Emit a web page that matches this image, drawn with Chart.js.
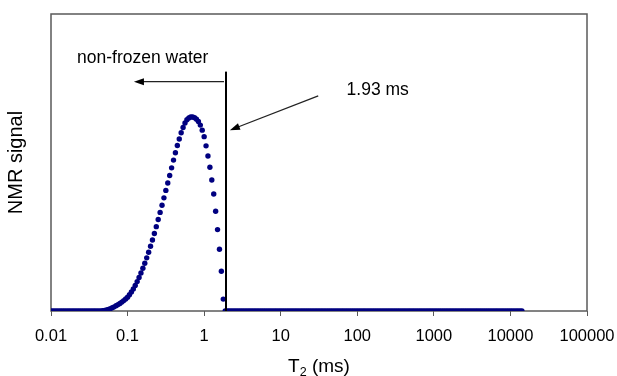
<!DOCTYPE html>
<html>
<head>
<meta charset="utf-8">
<script src="https://cdn.jsdelivr.net/npm/chart.js@4"></script>
<style>
  html, body { margin: 0; padding: 0; background: #fff; overflow: hidden; }
  #wrap { width: 640px; height: 376px; }
</style>
</head>
<body>
<div id="wrap"><canvas id="t2Chart" width="640" height="376"></canvas></div>
<script>
// T2 relaxation times (ms), log-spaced sampling
const t2Values = [
    0.01, 0.01059, 0.01122, 0.01189, 0.01259, 0.01334, 0.01413, 0.01496, 0.01585, 0.01679,
    0.01778, 0.01884, 0.01995, 0.02113, 0.02239, 0.02371, 0.02512, 0.02661, 0.02818, 0.02985,
    0.03162, 0.0335, 0.03548, 0.03758, 0.03981, 0.04217, 0.04467, 0.04732, 0.05012, 0.05309,
    0.05623, 0.05957, 0.0631, 0.06683, 0.07079, 0.07499, 0.07943, 0.08414, 0.08913, 0.09441,
    0.1, 0.1059, 0.1122, 0.1189, 0.1259, 0.1334, 0.1413, 0.1496, 0.1585, 0.1679,
    0.1778, 0.1884, 0.1995, 0.2113, 0.2239, 0.2371, 0.2512, 0.2661, 0.2818, 0.2985,
    0.3162, 0.335, 0.3548, 0.3758, 0.3981, 0.4217, 0.4467, 0.4732, 0.5012, 0.5309,
    0.5623, 0.5957, 0.631, 0.6683, 0.7079, 0.7499, 0.7943, 0.8414, 0.8913, 0.9441,
    1, 1.059, 1.122, 1.189, 1.259, 1.334, 1.413, 1.496, 1.585, 1.679,
    1.778, 1.884, 1.995, 2.113, 2.239, 2.371, 2.512, 2.661, 2.818, 2.985,
    3.162, 3.35, 3.548, 3.758, 3.981, 4.217, 4.467, 4.732, 5.012, 5.309,
    5.623, 5.957, 6.31, 6.683, 7.079, 7.499, 7.943, 8.414, 8.913, 9.441,
    10, 10.59, 11.22, 11.89, 12.59, 13.34, 14.13, 14.96, 15.85, 16.79,
    17.78, 18.84, 19.95, 21.13, 22.39, 23.71, 25.12, 26.61, 28.18, 29.85,
    31.62, 33.5, 35.48, 37.58, 39.81, 42.17, 44.67, 47.32, 50.12, 53.09,
    56.23, 59.57, 63.1, 66.83, 70.79, 74.99, 79.43, 84.14, 89.13, 94.41,
    100, 105.9, 112.2, 118.9, 125.9, 133.4, 141.3, 149.6, 158.5, 167.9,
    177.8, 188.4, 199.5, 211.3, 223.9, 237.1, 251.2, 266.1, 281.8, 298.5,
    316.2, 335, 354.8, 375.8, 398.1, 421.7, 446.7, 473.2, 501.2, 530.9,
    562.3, 595.7, 631, 668.3, 707.9, 749.9, 794.3, 841.4, 891.3, 944.1,
    1000, 1059, 1122, 1189, 1259, 1334, 1413, 1496, 1585, 1679,
    1778, 1884, 1995, 2113, 2239, 2371, 2512, 2661, 2818, 2985,
    3162, 3350, 3548, 3758, 3981, 4217, 4467, 4732, 5012, 5309,
    5623, 5957, 6310, 6683, 7079, 7499, 7943, 8414, 8913, 9441,
    10000, 10590, 11220, 11890, 12590, 13340, 14130
];

// NMR signal (arbitrary units, axis 0..100)
const signalValues = [
    0, 0, 0, 0, 0, 0, 0, 0, 0, 0,
    0, 0, 0, 0, 0, 0, 0, 0, 0, 0,
    0, 0, 0, 0, 0, 0, 0, 0.1, 0.2, 0.35,
    0.55, 0.8, 1.1, 1.4, 1.8, 2.15, 2.55, 3.0, 3.5, 4.05,
    4.65, 5.5, 6.4, 7.4, 8.6, 9.9, 11.3, 12.8, 14.4, 16.1,
    17.9, 19.8, 21.8, 23.9, 26.1, 28.4, 30.8, 33.2, 35.6, 38.1,
    40.6, 43.1, 45.6, 48.2, 50.8, 53.3, 55.7, 57.9, 60.0, 61.8,
    63.3, 64.4, 65.0, 65.3, 65.3, 65.1, 64.6, 63.8, 62.6, 60.9,
    58.7, 55.6, 52.2, 48.4, 44.1, 39.4, 33.6, 27.4, 20.8, 13.4,
    4.0, 0, 0, 0, 0, 0, 0, 0, 0, 0,
    0, 0, 0, 0, 0, 0, 0, 0, 0, 0,
    0, 0, 0, 0, 0, 0, 0, 0, 0, 0,
    0, 0, 0, 0, 0, 0, 0, 0, 0, 0,
    0, 0, 0, 0, 0, 0, 0, 0, 0, 0,
    0, 0, 0, 0, 0, 0, 0, 0, 0, 0,
    0, 0, 0, 0, 0, 0, 0, 0, 0, 0,
    0, 0, 0, 0, 0, 0, 0, 0, 0, 0,
    0, 0, 0, 0, 0, 0, 0, 0, 0, 0,
    0, 0, 0, 0, 0, 0, 0, 0, 0, 0,
    0, 0, 0, 0, 0, 0, 0, 0, 0, 0,
    0, 0, 0, 0, 0, 0, 0, 0, 0, 0,
    0, 0, 0, 0, 0, 0, 0, 0, 0, 0,
    0, 0, 0, 0, 0, 0, 0, 0, 0, 0,
    0, 0, 0, 0, 0, 0, 0, 0, 0, 0,
    0, 0, 0, 0, 0, 0, 0
];

const tickValues = [0.01, 0.1, 1, 10, 100, 1000, 10000, 100000];
const tickLabels = ["0.01", "0.1", "1", "10", "100", "1000", "10000", "100000"];

const cutoffT2 = 1.93;       // ms, freezing cutoff
const cutoffLineTop = 80.6;  // signal units
const cutoffLabel = "1.93 ms";
const waterLabel = "non-frozen water";

const NAVY = "#000080";
const FONT = "'Liberation Sans', Arial, sans-serif";

const points = t2Values.map((t, i) => ({ x: t, y: signalValues[i] }));

function drawArrow(ctx, x1, y1, x2, y2) {
    const ang = Math.atan2(y2 - y1, x2 - x1);
    const len = 10, half = 3.5;
    ctx.beginPath();
    ctx.moveTo(x1, y1);
    ctx.lineTo(x2 - Math.cos(ang) * len * 0.8, y2 - Math.sin(ang) * len * 0.8);
    ctx.stroke();
    ctx.beginPath();
    ctx.moveTo(x2, y2);
    ctx.lineTo(x2 - Math.cos(ang) * len - Math.sin(ang) * half, y2 - Math.sin(ang) * len + Math.cos(ang) * half);
    ctx.lineTo(x2 - Math.cos(ang) * len + Math.sin(ang) * half, y2 - Math.sin(ang) * len - Math.cos(ang) * half);
    ctx.closePath();
    ctx.fill();
}

const framePlugin = {
    id: "frame",
    beforeDatasetsDraw(chart) {
        const { ctx, chartArea: a } = chart;
        ctx.save();
        ctx.strokeStyle = "#5a5a5a";
        ctx.lineWidth = 1.5;
        ctx.strokeRect(a.left, a.top, a.right - a.left, a.bottom - a.top);
        ctx.restore();
    },
};

const annotationPlugin = {
    id: "annotations",
    afterDatasetsDraw(chart) {
        const { ctx, chartArea: a, scales: { x, y } } = chart;
        ctx.save();

        // cutoff line
        const cx = x.getPixelForValue(cutoffT2);
        ctx.strokeStyle = "#000";
        ctx.lineWidth = 2;
        ctx.beginPath();
        ctx.moveTo(cx, y.getPixelForValue(0));
        ctx.lineTo(cx, y.getPixelForValue(cutoffLineTop));
        ctx.stroke();

        // arrows
        ctx.strokeStyle = "#222";
        ctx.fillStyle = "#000";
        ctx.lineWidth = 1.3;
        const hy = y.getPixelForValue(77.2);
        drawArrow(ctx, cx - 2, hy, x.getPixelForValue(0.121), hy);
        drawArrow(ctx, x.getPixelForValue(30.9), y.getPixelForValue(72.4),
                  x.getPixelForValue(2.17), y.getPixelForValue(60.9));

        // labels
        ctx.fillStyle = "#000";
        ctx.font = "17.5px " + FONT;
        ctx.textBaseline = "middle";
        ctx.textAlign = "left";
        ctx.fillText(waterLabel, x.getPixelForValue(0.0219), y.getPixelForValue(85.2));
        ctx.fillText(cutoffLabel, x.getPixelForValue(72.5), y.getPixelForValue(74.4));

        // x axis title with subscript: T2 (ms)
        const big = "19px " + FONT, small = "12.5px " + FONT;
        ctx.textBaseline = "alphabetic";
        ctx.font = big;
        const wT = ctx.measureText("T").width;
        const wRest = ctx.measureText(" (ms)").width;
        ctx.font = small;
        const w2 = ctx.measureText("2").width;
        let tx = (a.left + a.right) / 2 - (wT + w2 + wRest) / 2;
        const ty = 372;
        ctx.font = big;
        ctx.fillText("T", tx, ty);
        tx += wT;
        ctx.font = small;
        ctx.fillText("2", tx, ty + 3.5);
        tx += w2;
        ctx.font = big;
        ctx.fillText(" (ms)", tx, ty);
        ctx.restore();
    },
};

new Chart(document.getElementById("t2Chart"), {
    type: "scatter",
    data: {
        datasets: [{
            label: "NMR signal",
            data: points,
            pointStyle: "circle",
            pointRadius: 2.7,
            pointHoverRadius: 2.7,
            backgroundColor: NAVY,
            borderColor: NAVY,
            borderWidth: 0,
            showLine: false,
        }],
    },
    options: {
        responsive: false,
        animation: false,
        events: [],
        layout: { padding: { top: 14, right: 53, bottom: 0, left: 0 } },
        plugins: {
            legend: { display: false },
            tooltip: { enabled: false },
        },
        scales: {
            x: {
                type: "logarithmic",
                min: 0.01,
                max: 100000,
                afterBuildTicks: (scale) => {
                    scale.ticks = tickValues.map((v) => ({ value: v }));
                },
                afterFit: (scale) => { scale.height = 65; },
                ticks: {
                    autoSkip: false,
                    maxRotation: 0,
                    padding: 11,
                    color: "#000",
                    font: { family: FONT, size: 16.5 },
                    callback: (value, index) => tickLabels[index],
                },
                grid: { drawOnChartArea: false, drawTicks: true, tickLength: 5, color: "#5a5a5a" },
                border: { display: false },
                title: { display: false },
            },
            y: {
                min: 0,
                max: 100,
                afterFit: (scale) => { scale.width = 51; },
                ticks: { display: false },
                grid: { display: false },
                border: { display: false },
                title: {
                    display: true,
                    text: "NMR signal",
                    color: "#000",
                    font: { family: FONT, size: 20 },
                    padding: { top: 4, bottom: 0 },
                },
            },
        },
    },
    plugins: [framePlugin, annotationPlugin],
});
</script>
</body>
</html>
